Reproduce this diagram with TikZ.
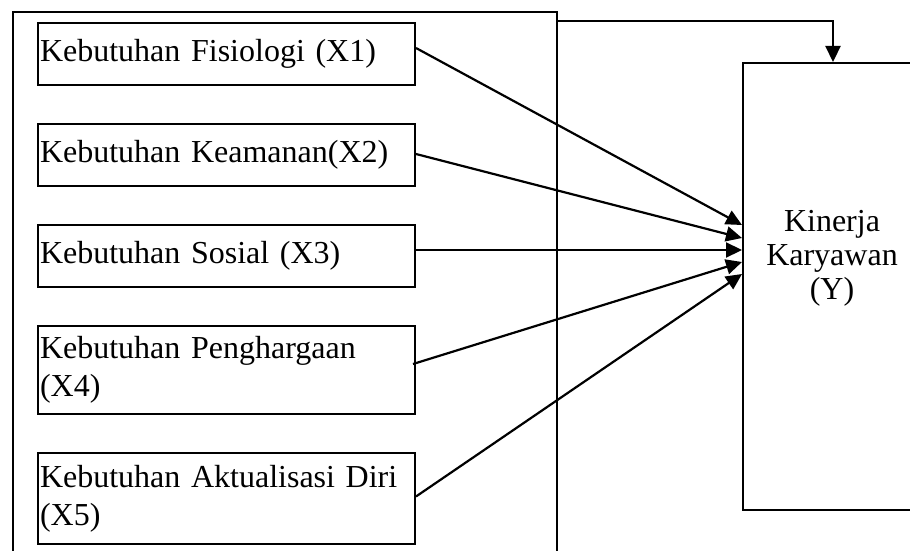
\documentclass[tikz,border=0pt]{standalone}
\usepackage{fontspec}
\setmainfont{Liberation Serif}
\usetikzlibrary{arrows.meta}
\begin{document}
\begin{tikzpicture}[x=1pt,y=-1pt,
  box/.style={draw, line width=2pt, anchor=north west, inner xsep=2pt, inner ysep=0pt,
    minimum width=377pt, text width=373pt, align=left, font=\fontsize{32}{38}\selectfont},
  frame/.style={draw, line width=2pt, anchor=north west, inner sep=0pt},
  arr/.style={line width=2.2pt, -{Triangle[length=16pt,width=15pt]}}]
\useasboundingbox (0,0) rectangle (910,551);
\clip (0,0) rectangle (910,551);
\node[frame, minimum width=544pt, minimum height=600pt] (outer) at (12,11) {};
\node[box, minimum height=62pt] (x1) at (37,22) {Kebutuhan Fisiologi (X1)};
\node[box, minimum height=62pt] (x2) at (37,123) {Kebutuhan Keamanan(X2)};
\node[box, minimum height=62pt] (x3) at (37,224) {Kebutuhan Sosial (X3)};
\node[box, minimum height=88pt] (x4) at (37,325) {Kebutuhan Penghargaan\\(X4)};
\node[box, minimum height=91pt] (x5) at (37,452) {Kebutuhan Aktualisasi Diri\\(X5)};
\node[frame, minimum width=180pt, minimum height=447pt] (yb) at (742,62) {};
\node[font=\fontsize{32}{34}\selectfont, align=center] (ylab) at (832,258) {Kinerja\\Karyawan\\(Y)};
\coordinate (t1) at (742,225);
\coordinate (t2) at (742,238);
\coordinate (t3) at (742,250);
\coordinate (t4) at (742,262);
\coordinate (t5) at (742,274);
\draw[arr] ([yshift=6pt]x1.east) -- (t1);
\draw[arr] ([yshift=1pt]x2.east) -- (t2);
\draw[arr] (x3.east |- t3) -- (t3);
\draw[arr] ([xshift=-3pt,yshift=6pt]x4.east) -- (t4);
\draw[arr] ([yshift=2pt]x5.east) -- (t5);
\coordinate (fbs) at (556,21);
\coordinate (fbe) at (833,62);
\draw[arr] (fbs) -| (fbe);
\end{tikzpicture}
\end{document}
